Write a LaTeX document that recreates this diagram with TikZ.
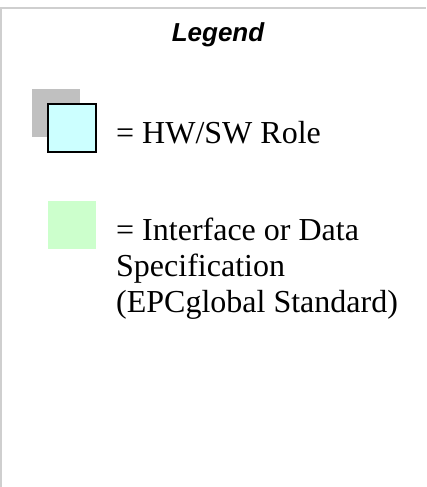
\documentclass[tikz,border=0pt]{standalone}
\usepackage{fontspec}
\setmainfont{Liberation Serif}
\newfontfamily\arialfont{Liberation Sans}
\usetikzlibrary{positioning}
\definecolor{rolecyan}{HTML}{CCFFFF}
\definecolor{specgreen}{HTML}{CCFFCC}
\definecolor{shadowgray}{HTML}{C0C0C0}
\definecolor{framegray}{HTML}{CFCFCF}

\begin{document}
\begin{tikzpicture}[x=1pt,y=-1pt,
  key box/.style={minimum size=48pt,inner sep=0pt,outer sep=0pt,anchor=north west},
  key text/.style={font=\fontsize{32}{36}\selectfont,anchor=base west,inner sep=0pt,align=left}]

  \useasboundingbox (0,0) rectangle (426,487);
  \draw[framegray,line width=2pt] (1,487) -- (1,8) -- (426,8);

  \node[font=\arialfont\bfseries\itshape\fontsize{26}{30}\selectfont,anchor=base] (title) at (218,42) {Legend};

  \node[key box,fill=shadowgray] (shadow) at (32,89) {};
  \node[key box,fill=rolecyan,draw=black,line width=1.5pt] (role) at (48,104) {};
  \node[key text] (roletext) at (116,143) {= HW/SW Role};

  % base of a multi-line node is its last line
  \node[key box,fill=specgreen] (spec) at (48,201) {};
  \node[key text] (spectext) at (116,312) {= Interface or Data\\Specification\\(EPCglobal Standard)};
\end{tikzpicture}
\end{document}
